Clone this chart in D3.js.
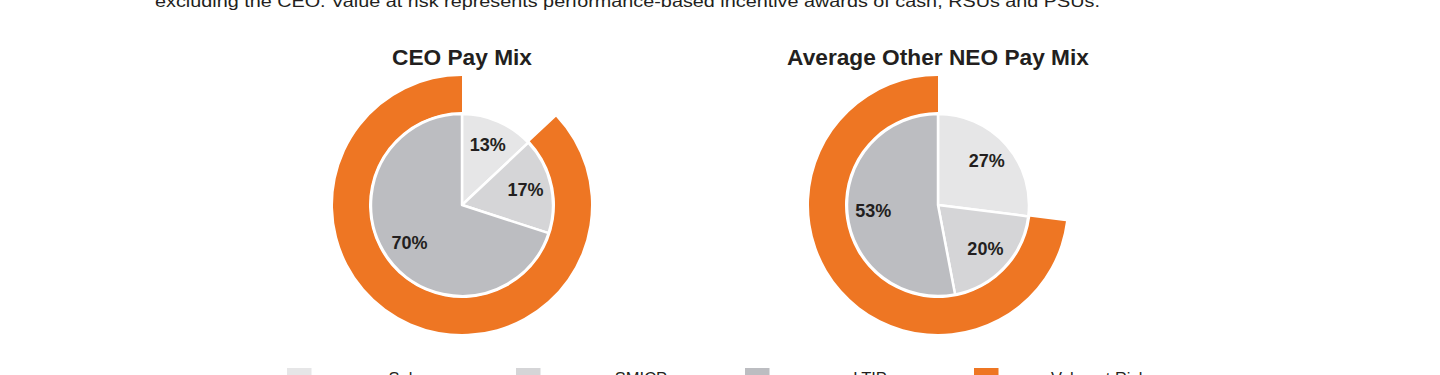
<!DOCTYPE html>
<html>
<head>
<meta charset="utf-8">
<script src="https://cdn.jsdelivr.net/npm/d3@7"></script>
<style>
  html, body { margin: 0; padding: 0; background: #fff; }
  svg { display: block; font-family: "Liberation Sans", Arial, sans-serif; }
</style>
</head>
<body>
<svg id="chart" width="1440" height="375"></svg>
<script>
// pay mix data
const categories = ["Salary", "SMICP", "LTIP"];
const ceoValues  = [13, 17, 70];
const neoValues  = [27, 20, 53];
const legendLabels = ["Salary", "SMICP", "LTIP", "Value at Risk"];
const chartTitles  = ["CEO Pay Mix", "Average Other NEO Pay Mix"];
const noteText = "excluding the CEO. Value at risk represents performance-based incentive awards of cash, RSUs and PSUs.";

const colors = ["#e6e6e7", "#d5d5d7", "#bcbdc1", "#ee7623"];
const inkColor = "#231f20";

const svg = d3.select("#chart");

// cut-off sentence above the charts
svg.append("text")
  .attr("x", 155).attr("y", 6.5)
  .attr("font-size", 16.5)
  .attr("fill", inkColor)
  .attr("textLength", 945)
  .attr("lengthAdjust", "spacingAndGlyphs")
  .text(noteText);

const pie = d3.pie().sort(null).value(d => d);
const rPie = 91, rRingIn = 93, rRingOut = 129;
const sliceArc = d3.arc().innerRadius(0).outerRadius(rPie);
const labelArc = d3.arc().innerRadius(65).outerRadius(65);
const ringArc  = d3.arc().innerRadius(rRingIn).outerRadius(rRingOut);

function drawMix(cx, cy, title, values) {
  const g = svg.append("g").attr("transform", `translate(${cx},${cy})`);

  // value at risk ring: everything but salary
  const start = values[0] / d3.sum(values) * 2 * Math.PI;
  g.append("path")
    .attr("d", ringArc({ startAngle: start, endAngle: 2 * Math.PI }))
    .attr("fill", colors[3]);

  const arcs = pie(values);
  g.selectAll("path.slice")
    .data(arcs)
    .join("path")
    .attr("class", "slice")
    .attr("d", sliceArc)
    .attr("fill", (d, i) => colors[i])
    .attr("stroke", "#fff")
    .attr("stroke-width", 2.5)
    .attr("stroke-linejoin", "round");

  g.selectAll("text.pct")
    .data(arcs)
    .join("text")
    .attr("class", "pct")
    .attr("transform", d => `translate(${labelArc.centroid(d)})`)
    .attr("text-anchor", "middle")
    .attr("dy", "0.3em")
    .attr("font-size", 18)
    .attr("font-weight", "bold")
    .attr("fill", inkColor)
    .text(d => d.data + "%");

  svg.append("text")
    .attr("x", cx).attr("y", 65)
    .attr("text-anchor", "middle")
    .attr("font-size", 22.7)
    .attr("font-weight", "bold")
    .attr("fill", inkColor)
    .text(title);
}

drawMix(462, 205, chartTitles[0], ceoValues);
drawMix(938, 205, chartTitles[1], neoValues);

// legend along the bottom edge (clipped by the frame)
const legendX = d3.scalePoint().domain(legendLabels).range([287, 974]);
const leg = svg.selectAll("g.legend")
  .data(legendLabels)
  .join("g")
  .attr("class", "legend")
  .attr("transform", d => `translate(${legendX(d)},368)`);
leg.append("rect")
  .attr("width", 24.5).attr("height", 24)
  .attr("fill", (d, i) => colors[i]);
leg.append("text")
  .attr("x", 125)
  .attr("y", 16)
  .attr("text-anchor", "middle")
  .attr("font-size", 16.5)
  .attr("fill", inkColor)
  .text(d => d);
</script>
</body>
</html>
